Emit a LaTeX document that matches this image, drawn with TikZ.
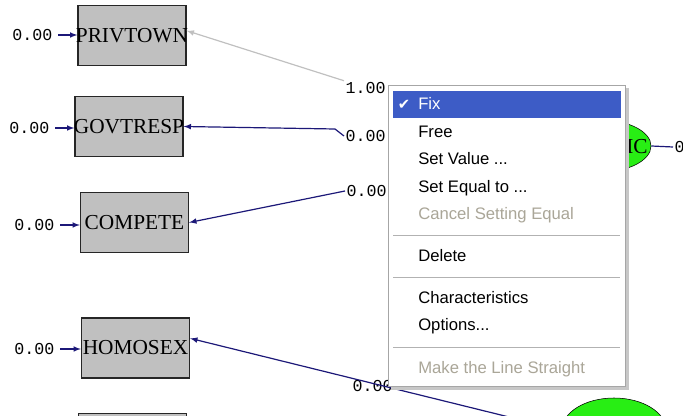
\documentclass[tikz,border=0pt]{standalone}
\usepackage{tikz}
\usepackage{fontspec}
\usetikzlibrary{arrows, shapes.geometric}

\newfontfamily\boxfont{Liberation Serif}
\newfontfamily\valfont{Liberation Mono}
\newfontfamily\menufont{Liberation Sans}
\newfontfamily\symfont{DejaVu Sans}

\definecolor{boxgray}{RGB}{192,192,192}
\definecolor{latgreen}{RGB}{40,238,20}
\definecolor{pathblue}{RGB}{28,24,120}
\definecolor{pathgray}{RGB}{192,192,192}
\definecolor{menublue}{RGB}{61,92,198}
\definecolor{menugray}{RGB}{170,166,152}

\begin{document}
\begin{tikzpicture}[>=latex, x=0.75pt, y=-0.75pt,
	obs/.style={draw=black!85, fill=boxgray, line width=1pt, minimum width=81pt, minimum height=45pt, inner xsep=-5pt, inner ysep=0pt, font=\boxfont\fontsize{16}{16}\selectfont},
	lat/.style={ellipse, draw=black, fill=latgreen, inner sep=0pt},
	val/.style={inner sep=1pt, font=\valfont\fontsize{12.5}{12.5}\selectfont},
	ld/.style={draw=pathblue, line width=0.9pt},
	item/.style={anchor=base west, inner sep=0pt, font=\menufont\fontsize{12.5}{14}\selectfont},
	off/.style={item, text=menugray}]

\useasboundingbox (0,0) rectangle (683,416);
\clip (0,0) rectangle (683,416);

%\draw[xstep=50,ystep=50,color=gray!80] (0, 0) grid (683, 416);

% observed variables
\node[obs] (priv) at (132, 35.5) {PRIVTOWN};
\node[obs] (gov) at (129, 126.5) {GOVTRESP};
\node[obs] (comp) at (134.5, 222.5) {COMPETE};
\node[obs] (homo) at (135.5, 348) {HOMOSEX};
\node[obs] (nextbox) at (132.5, 443.5) {};

% latent variables
\node[lat, minimum width=75pt, minimum height=39pt] (pub) at (601, 146) {};
\node[inner sep=0pt, font=\boxfont\fontsize{16}{16}\selectfont] (pubtxt) at (637, 147) {IC};
\node[lat, minimum width=78pt, minimum height=48pt] (lat2) at (614, 430) {};

% error variances
\node[val, anchor=east] (e1) at (54, 35) {0.00};
\node[val, anchor=east] (e2) at (51, 128) {0.00};
\node[val, anchor=east] (e3) at (56, 225) {0.00};
\node[val, anchor=east] (e4) at (56, 349) {0.00};

\draw[ld, ->, shorten <=3pt] (e1) -- (e1 -| priv.west);
\draw[ld, ->, shorten <=3pt] (e2) -- (e2 -| gov.west);
\draw[ld, ->, shorten <=3pt] (e3) -- (e3 -| comp.west);
\draw[ld, ->, shorten <=3pt] (e4) -- (e4 -| homo.west);

% loadings
\node[val, anchor=west] (l1) at (344, 88) {1.00};
\node[val, anchor=west] (l2) at (344, 136) {0.00};
\node[val, anchor=west] (l3) at (345, 191) {0.00};
\node[val, anchor=west] (l4) at (351, 386) {0.00};

\draw[draw=pathgray, line width=0.9pt, ->] (l1.north west) -- (priv.5);
\draw[ld, ->] (l2.west) -- ++(-9, -7) -- (gov.east);
\draw[ld, ->] (l3.west) -- (comp.east);
\draw[ld, ->] (lat2.west) -- (homo.10);

\node[val, anchor=west] (pe) at (673, 147) {0.00};
\draw[ld] (pub.east) -- (pe.west);

% context menu
\fill[black!22] (391, 88) rectangle (629, 390);
\draw[draw=black!35, fill=white] (388, 85) rectangle (625, 386);
\fill[menublue] (393, 91) rectangle (621, 118);

\node[text=white, inner sep=0pt, font=\symfont\fontsize{11}{11}\selectfont] (chk) at (404, 105) {✔};
\node[item, text=white] (mfix) at (418, 110) {Fix};
\node[item] (mfree) at (418, 138) {Free};
\node[item] (mval) at (418, 165) {Set Value ...};
\node[item] (meq) at (418, 193) {Set Equal to ...};
\node[off] (mcancel) at (418, 220) {Cancel Setting Equal};
\node[item] (mdel) at (418, 262) {Delete};
\node[item] (mchar) at (418, 304) {Characteristics};
\node[item] (mopt) at (418, 331) {Options...};
\node[off] (mline) at (418, 374) {Make the Line Straight};

\foreach \y in {235, 277, 347}
	\draw[black!30] (393, \y) -- (620, \y);

\end{tikzpicture}
\end{document}
